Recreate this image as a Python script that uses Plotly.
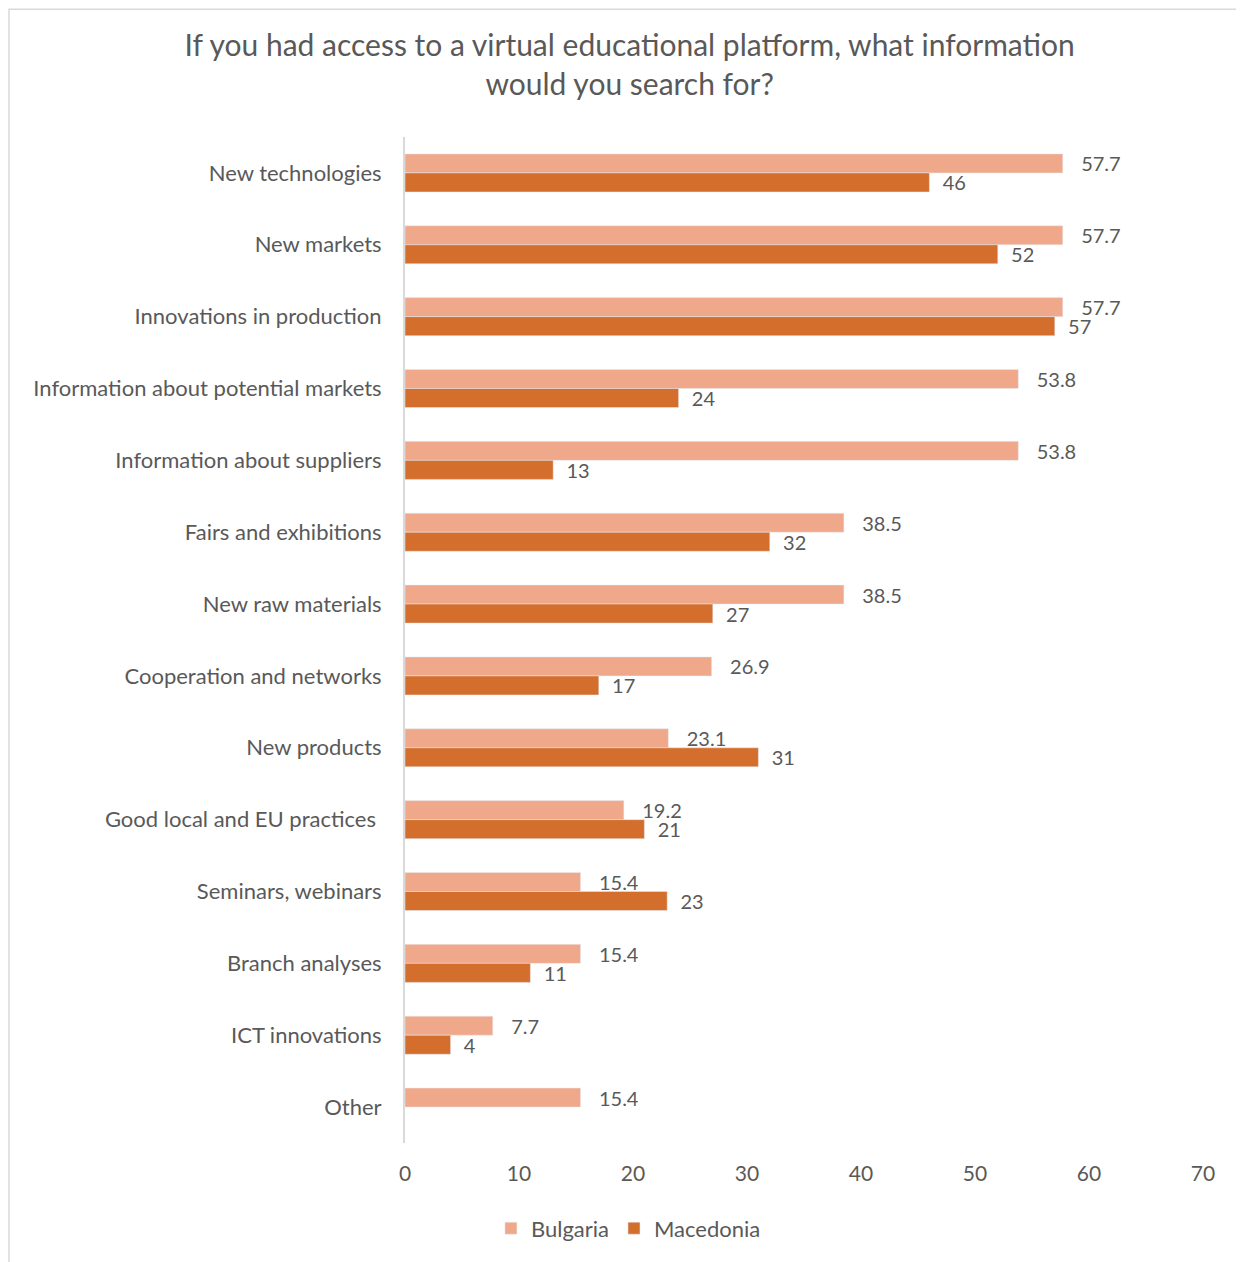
import plotly.graph_objects as go

categories = [
    "New technologies",
    "New markets",
    "Innovations in production",
    "Information about potential markets",
    "Information about suppliers",
    "Fairs and exhibitions",
    "New raw materials",
    "Cooperation and networks",
    "New products",
    "Good local and EU practices ",
    "Seminars, webinars",
    "Branch analyses",
    "ICT innovations",
    "Other",
]
bulgaria = [57.7, 57.7, 57.7, 53.8, 53.8, 38.5, 38.5, 26.9, 23.1, 19.2, 15.4, 15.4, 7.7, 15.4]
macedonia = [46, 52, 57, 24, 13, 32, 27, 17, 31, 21, 23, 11, 4, None]
x_ticks = [0, 10, 20, 30, 40, 50, 60, 70]

FONT = "Lato"
GREY = "#595959"

fig = go.Figure()
fig.add_trace(go.Bar(
    name="Bulgaria", y=categories, x=bulgaria, orientation="h",
    marker_color="#f0a88a",
    text=bulgaria, texttemplate="\u00a0\u00a0\u00a0%{x}", textposition="outside",
    constraintext="none",
    textfont=dict(size=20, color=GREY, family=FONT), cliponaxis=False,
))
fig.add_trace(go.Bar(
    name="Macedonia", y=categories, x=macedonia, orientation="h",
    marker_color="#d46e2c",
    text=macedonia, texttemplate="\u00a0\u00a0%{x}", textposition="outside",
    constraintext="none",
    textfont=dict(size=20, color=GREY, family=FONT), cliponaxis=False,
))

fig.update_layout(
    width=1236, height=1254,
    margin=dict(l=397, r=41, t=129, b=119),
    paper_bgcolor="white", plot_bgcolor="white",
    barmode="group", bargap=0.47, bargroupgap=0,
    font=dict(family=FONT, color=GREY),
    title=dict(
        text="If you had access to a virtual educational platform, what information<br>would you search for?",
        x=0.503, xref="container", xanchor="center", y=0.962, yanchor="top",
        font=dict(size=30, color=GREY, family=FONT),
    ),
    showlegend=True,
    legend=dict(orientation="h", x=0.28, xanchor="center", y=-0.064, yanchor="top",
                font=dict(size=22, color=GREY, family=FONT), traceorder="normal"),
    xaxis=dict(range=[0, 70], tickvals=x_ticks, showgrid=False, zeroline=False,
               showline=False, tickfont=dict(size=21, color=GREY), ticks="",
               ticklabelstandoff=16),
    yaxis=dict(autorange="reversed", showgrid=False, showline=True, linecolor="#d9d9d9",
               linewidth=2, ticks="", tickfont=dict(size=22, color=GREY),
               ticklabelstandoff=17),
    shapes=[dict(type="rect", xref="paper", yref="paper", x0=-0.4962, x1=1.05,
                 y0=-0.2, y1=1.127, line=dict(color="#d9d9d9", width=1.5),
                 fillcolor="rgba(0,0,0,0)", layer="below")],
)

fig.write_html("out.html")
